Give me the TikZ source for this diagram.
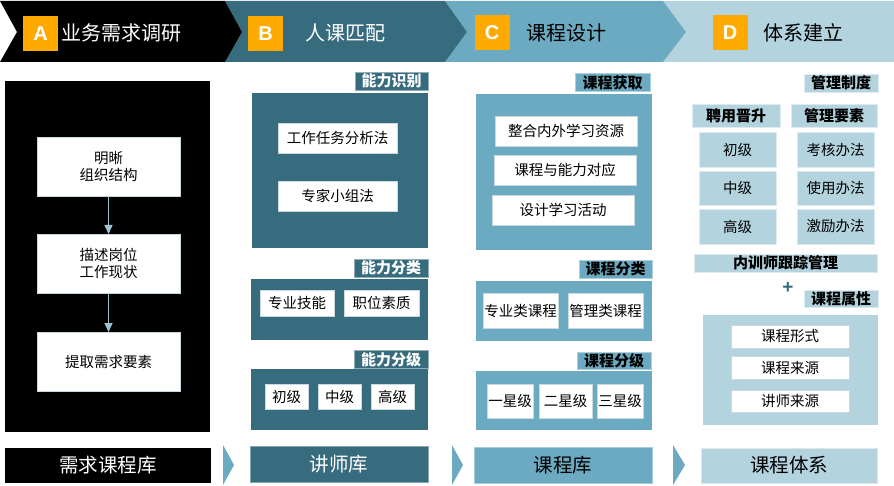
\documentclass[tikz,border=0pt]{standalone}
\usepackage{fontspec}
\setmainfont{Noto Sans CJK SC}
\newfontfamily\latinfont{Liberation Sans}
\usetikzlibrary{arrows.meta}
\definecolor{tealB}{HTML}{376B7E}
\definecolor{tealC}{HTML}{6BAAC0}
\definecolor{tealD}{HTML}{B3D3DE}
\definecolor{letterbg}{HTML}{FFAA00}
\definecolor{flowc}{HTML}{9CC2D2}
\definecolor{boxedge}{HTML}{C9D9DF}
\tikzset{
  sz/.style 2 args={minimum width=#1pt, minimum height=#2pt},
  plain/.style={inner sep=0pt, outer sep=0pt},
  wbox/.style={plain, fill=white, draw=boxedge, line width=0.5pt, font=\fontsize{14.5}{17}\selectfont},
  letter/.style={plain, fill=letterbg, sz={35}{35}, text=white, font=\latinfont\bfseries\fontsize{20}{20}\selectfont},
  title/.style={plain, font=\fontsize{20}{22}\selectfont},
  tabB/.style={plain, fill=tealB, draw=tealB!55!white, line width=0.6pt, text=white, font=\fontsize{15}{17}\selectfont\bfseries},
  tabC/.style={plain, fill=tealC, draw=tealC!55!white, line width=0.6pt, font=\fontsize{15}{17}\selectfont\bfseries},
  tabD/.style={plain, fill=tealD, draw=tealD!45!white, line width=0.6pt, font=\fontsize{15}{17}\selectfont\bfseries},
  dbox/.style={plain, fill=tealD, draw=tealD!45!white, line width=0.6pt, font=\fontsize{14.5}{17}\selectfont},
  base/.style={plain, line width=0.6pt, font=\fontsize{19.5}{22}\selectfont},
  flow/.style={flowc, line width=1.5pt, -{Triangle[length=9pt,width=8pt]}}
}
\begin{document}
\begin{tikzpicture}[x=1pt,y=-1pt]
  \useasboundingbox (0,0) rectangle (894,486);

  % header band
  \fill[tealD] (663,1) -- (894,1) -- (894,62) -- (663,62) -- (686,32) -- cycle;
  \fill[tealC] (445,1) -- (663,1) -- (686,32) -- (663,62) -- (445,62) -- (467,32) -- cycle;
  \fill[tealB] (225,1) -- (445,1) -- (467,32) -- (445,62) -- (225,62) -- (242,32) -- cycle;
  \fill[black] (0,1) -- (225,1) -- (242,32) -- (225,62) -- (0,62) -- (17,32) -- cycle;
  \node[letter] (letA) at (40.5,33.5) {A}; \node[title, text=white] (titA) at (121.5,33) {业务需求调研};
  \node[letter] (letB) at (265.5,33.5) {B}; \node[title, text=white] (titB) at (345,33) {人课匹配};
  \node[letter] (letC) at (492,32.5) {C}; \node[title] (titC) at (566,33) {课程设计};
  \node[letter] (letD) at (730,32.5) {D}; \node[title] (titD) at (803,33) {体系建立};

  % A
  \fill[black] (5,81) rectangle (210,432);
  \node[wbox, sz={143}{59}, align=center] (need1) at (108.5,166.5) {明晰\\组织结构};
  \node[wbox, sz={143}{59}, align=center] (need2) at (108.5,263.5) {描述岗位\\工作现状};
  \node[wbox, sz={143}{59}] (need3) at (108.5,361.5) {提取需求要素};
  \draw[flow] (need1) to (need2); \draw[flow] (need2) to (need3);

  % B
  \node[tabB, sz={73}{18}] (abilT1) at (391.5,81) {能力识别};
  \fill[tealB] (252,93) rectangle (428,248);
  \node[wbox, sz={119}{30}] (abil11) at (337.5,138) {工作任务分析法};
  \node[wbox, sz={119}{30}] (abil12) at (337.5,196) {专家小组法};
  \node[tabB, sz={74}{18}] (abilT2) at (391,268) {能力分类};
  \fill[tealB] (251,279) rectangle (428,340);
  \node[wbox, sz={74}{26}] (abil21) at (297,303) {专业技能}; \node[wbox, sz={75}{26}] (abil22) at (381.5,303) {职位素质};
  \node[tabB, sz={74}{18}] (abilT3) at (391,359.5) {能力分级};
  \fill[tealB] (251,369) rectangle (428,430);
  \node[wbox, sz={43}{25}] (abil31) at (286.5,396.5) {初级}; \node[wbox, sz={43}{25}] (abil32) at (339.5,396.5) {中级}; \node[wbox, sz={43}{25}] (abil33) at (392.5,396.5) {高级};

  % C
  \node[tabC, sz={75}{18}] (courT1) at (612.5,82.5) {课程获取};
  \fill[tealC] (476,94) rectangle (652,250);
  \node[wbox, sz={142}{30}] (cour11) at (566,131) {整合内外学习资源};
  \node[wbox, sz={142}{30}] (cour12) at (565,170) {课程与能力对应};
  \node[wbox, sz={142}{30}] (cour13) at (563,210) {设计学习活动};
  \node[tabC, sz={73}{18}] (courT2) at (615.5,269) {课程分类};
  \fill[tealC] (476,281) rectangle (652,341);
  \node[wbox, sz={75}{35}] (cour21) at (520.5,310.5) {专业类课程}; \node[wbox, sz={75}{35}] (cour22) at (605.5,310.5) {管理类课程};
  \node[tabC, sz={74}{17}] (courT3) at (614,360.5) {课程分级};
  \fill[tealC] (476,371) rectangle (652,430);
  \node[wbox, sz={46}{34}] (cour31) at (510,401) {一星级}; \node[wbox, sz={53}{34}] (cour32) at (565.5,401) {二星级}; \node[wbox, sz={46}{34}] (cour33) at (620,401) {三星级};

  % D
  \node[tabD, sz={74}{18}] (sysT1) at (841,83) {管理制度};
  \node[tabD, sz={88}{23}] (hire) at (736,115.5) {聘用晋升}; \node[tabD, sz={86}{23}] (rule) at (834,115.5) {管理要素};
  \node[dbox, sz={77}{35}] (hire1) at (737.5,149.5) {初级}; \node[dbox, sz={77}{35}] (rule1) at (835.5,149.5) {考核办法};
  \node[dbox, sz={77}{34}] (hire2) at (737.5,188) {中级}; \node[dbox, sz={77}{34}] (rule2) at (835.5,188) {使用办法};
  \node[dbox, sz={77}{35}] (hire3) at (737.5,226.5) {高级}; \node[dbox, sz={77}{35}] (rule3) at (835.5,226.5) {激励办法};
  \node[tabD, sz={183}{18}] (track) at (785.5,263) {内训师跟踪管理};
  \node[plain, text=tealB, font=\latinfont\bfseries\fontsize{19}{19}\selectfont] (plus) at (788,288) {+};
  \node[tabD, sz={74}{17}] (sysT2) at (841,298.5) {课程属性};
  \fill[tealD] (703,315) rectangle (878,425);
  \node[wbox, sz={118}{23}] (attr1) at (790,336.5) {课程形式};
  \node[wbox, sz={118}{23}] (attr2) at (790,367.5) {课程来源};
  \node[wbox, sz={118}{22}] (attr3) at (790,401) {讲师来源};

  % bottom row
  \node[base, fill=black, text=white, sz={206}{35}] (lib1) at (108,465.5) {需求课程库};
  \node[base, fill=tealB, draw=tealB!60!white, text=white, sz={178}{36}] (lib2) at (339,464) {讲师库};
  \node[base, fill=tealC, draw=tealC!60!white, sz={178}{36}] (lib3) at (563,465) {课程库};
  \node[base, fill=tealD, draw=tealD!50!white, sz={176}{35}] (lib4) at (789,465.5) {课程体系};
  \fill[tealC] (223,445) -- (234,465) -- (223,485) -- cycle;
  \fill[tealC] (452,445) -- (463,465) -- (452,485) -- cycle;
  \fill[tealC] (673,445) -- (685,465) -- (673,485) -- cycle;
\end{tikzpicture}
\end{document}
